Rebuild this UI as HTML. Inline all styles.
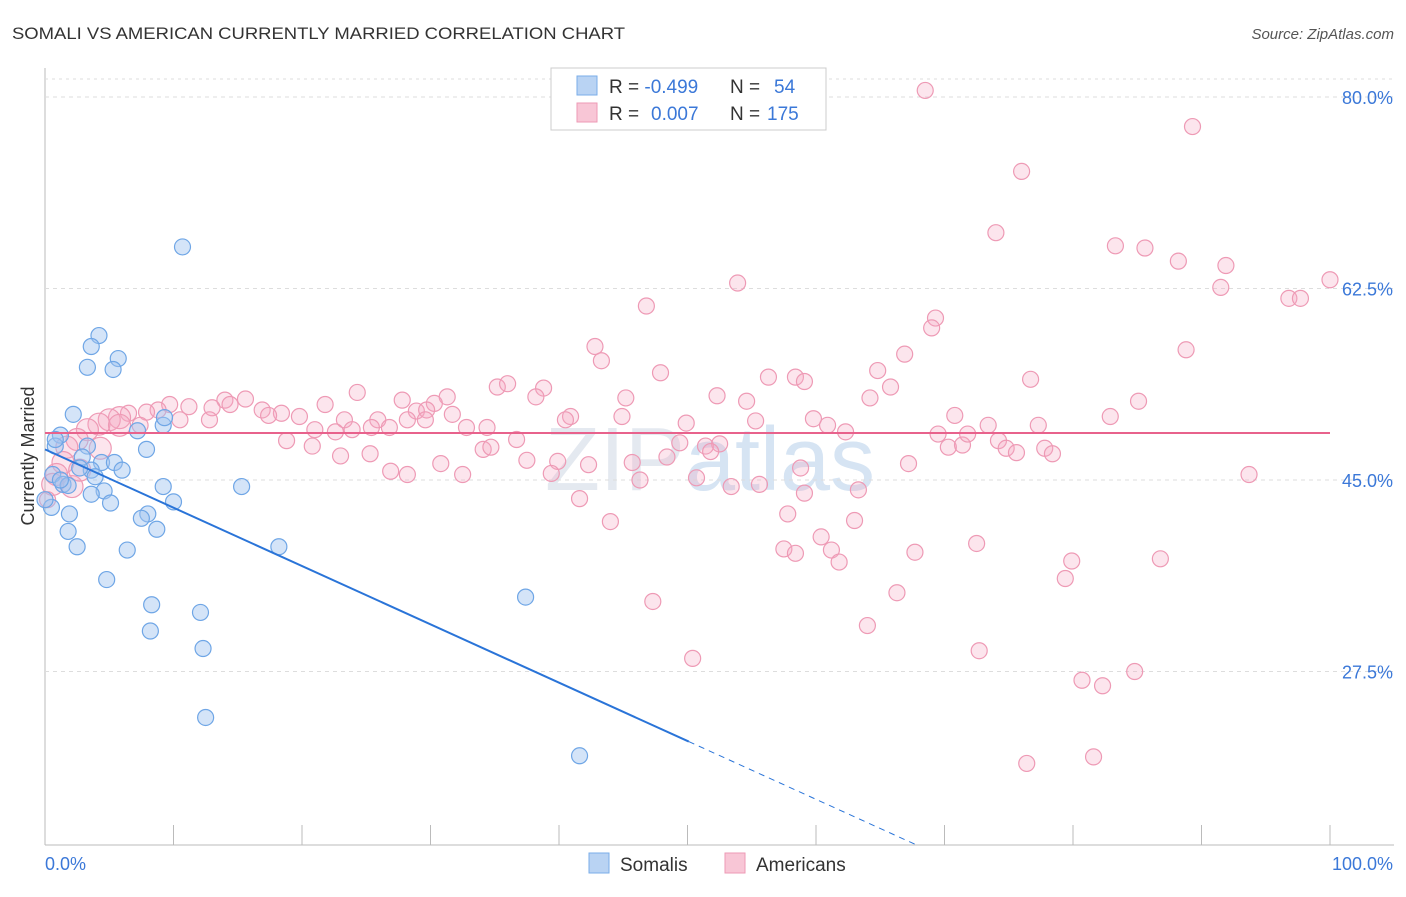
<!DOCTYPE html>
<html><head><meta charset="utf-8"><style>
body{margin:0;background:#fff;font-family:"Liberation Sans",sans-serif;}
svg text{font-family:"Liberation Sans",sans-serif;}
</style></head><body>
<svg id="chart" width="1406" height="892">
<text x="12" y="39" font-size="17" fill="#333" textLength="613" lengthAdjust="spacingAndGlyphs">SOMALI VS AMERICAN CURRENTLY MARRIED CORRELATION CHART</text>
<text x="1394" y="39" font-size="15" fill="#555" font-style="italic" text-anchor="end">Source: ZipAtlas.com</text>
<text x="710" y="490" font-size="90" fill="#e4e9f0" text-anchor="middle" font-family="Liberation Serif">ZIP<tspan fill="#d6e4f3" font-family="Liberation Sans">atlas</tspan></text>
<g id="grid"></g>
<g id="marks"></g>
<text transform="translate(34,456) rotate(-90)" font-size="18" fill="#333" text-anchor="middle">Currently Married</text>
<text x="45" y="870" font-size="18" fill="#3b78d8">0.0%</text>
<text x="1393" y="870" font-size="18" fill="#3b78d8" text-anchor="end">100.0%</text>
<g>
<rect x="551" y="68" width="275" height="62" fill="#fff" stroke="#ccc"/>
<rect x="577" y="76" width="20" height="19" fill="#b9d3f3" stroke="#7aaee8"/>
<rect x="577" y="103" width="20" height="19" fill="#f8c6d6" stroke="#ee9ab5"/>
<text x="609" y="93" font-size="19" fill="#333">R = <tspan fill="#3b78d8">-0.499</tspan><tspan x="730">N = </tspan><tspan fill="#3b78d8" x="774">54</tspan></text>
<text x="609" y="120" font-size="19" fill="#333">R = <tspan fill="#3b78d8" x="651">0.007</tspan><tspan x="730">N = </tspan><tspan fill="#3b78d8" x="767">175</tspan></text>
</g>
<g>
<rect x="589" y="853" width="20" height="20" fill="#b9d3f3" stroke="#7aaee8"/>
<text x="620" y="871" font-size="19" fill="#333">Somalis</text>
<rect x="725" y="853" width="20" height="20" fill="#f8c6d6" stroke="#ee9ab5"/>
<text x="756" y="871" font-size="19" fill="#333">Americans</text>
</g>
</svg>
<script>
const yTicks=[80,62.5,45,27.5];
const xTicks=[0,10,20,30,40,50,60,70,80,90,100];
const somaliX=[10.7,4.2,3.6,5.7,3.3,5.3,2.2,1.2,3.3,7.2,9.2,9.3,7.9,0.8,2.9,4.4,5.4,6.0,3.6,0.6,1.4,1.8,3.9,4.6,3.6,9.2,15.3,5.1,10.0,1.9,0.5,8.0,7.5,8.7,1.8,2.5,6.4,18.2,4.8,8.3,12.1,8.2,12.3,12.5,37.4,41.6,0,1.2,2.7,0.8];
const somaliY=[66.3,58.2,57.2,56.1,55.3,55.1,51.0,49.1,48.1,49.5,50.0,50.7,47.8,48.1,47.1,46.6,46.6,45.9,45.9,45.5,44.6,44.5,45.3,44.0,43.7,44.4,44.4,42.9,43.0,41.9,42.5,41.9,41.5,40.5,40.3,38.9,38.6,38.9,35.9,33.6,32.9,31.2,29.6,23.3,34.3,19.8,43.2,45.0,46.1,48.7];
const amerX=[68.5,89.3,76.0,74.0,83.3,85.6,88.2,91.9,100,91.5,96.8,97.7,53.9,46.8,69.3,69.0,42.8,43.3,66.9,88.8,47.9,64.8,56.3,58.4,59.1,65.8,76.7,35.2,36.0,38.8,38.2,24.3,27.8,31.3,30.3,28.9,29.7,52.3,54.6,64.2,45.2,85.1,82.9,70.8,59.8,60.9,62.3,55.3,49.9,44.9,40.9,40.5,31.7,28.2,25.9,25.4,23.3,22.6,21.0,19.8,18.4,16.9,15.6,14.0,13.0,11.2,9.7,8.8,7.9,6.5,5.8,5.0,4.2,3.3,2.5,1.7,1.4,0.9,0.6,0.2,2.1,2.7,4.3,5.8,7.4,10.5,12.8,14.4,17.4,21.8,23.9,26.8,29.6,32.8,34.4,36.7,34.1,34.7,49.4,51.4,52.5,51.8,48.4,45.7,42.3,37.5,39.9,39.4,30.8,26.9,28.2,32.5,25.3,20.8,18.8,23.0,69.5,70.3,71.4,71.8,74.2,74.8,75.6,77.8,78.4,77.3,73.4,58.8,67.2,93.7,63.3,59.1,55.6,53.4,50.7,46.3,41.6,44.0,57.8,63.0,57.5,58.4,60.4,61.2,61.8,67.7,72.5,79.9,79.4,86.8,66.3,47.3,64.0,72.7,50.4,80.7,82.3,84.8,76.4,81.6];
const amerY=[80.6,77.3,73.2,67.6,66.4,66.2,65.0,64.6,63.3,62.6,61.6,61.6,63.0,60.9,59.8,58.9,57.2,55.9,56.5,56.9,54.8,55.0,54.4,54.4,54.0,53.5,54.2,53.5,53.8,53.4,52.6,53.0,52.3,52.6,52.0,51.3,51.4,52.7,52.2,52.5,52.5,52.2,50.8,50.9,50.6,50.0,49.4,50.4,50.2,50.8,50.8,50.5,51.0,50.5,50.5,49.8,50.5,49.4,49.6,50.8,51.1,51.4,52.4,52.3,51.6,51.7,51.9,51.4,51.2,51.1,50.7,50.5,50.1,49.6,48.7,48.0,46.6,45.5,44.6,43.2,44.4,45.9,47.9,50.0,50.0,50.5,50.5,51.9,50.9,51.9,49.6,49.8,50.5,49.8,49.8,48.7,47.8,48.0,48.4,48.1,48.3,47.6,47.1,46.6,46.4,46.8,46.7,45.6,46.5,45.8,45.5,45.5,47.4,48.1,48.6,47.2,49.2,48.0,48.2,49.2,48.6,47.9,47.5,47.9,47.4,50.0,50.0,46.1,46.5,45.5,44.1,43.8,44.6,44.4,45.2,45.0,43.3,41.2,41.9,41.3,38.7,38.3,39.8,38.6,37.5,38.4,39.2,37.6,36.0,37.8,34.7,33.9,31.7,29.4,28.7,26.7,26.2,27.5,19.1,19.7];
const somaliTrend=[47.8,-0.533];
const amerTrend=[49.3,0];
const NS="http://www.w3.org/2000/svg";
const X0=45,X1=1330,YB=845;
function sx(v){return X0+(X1-X0)*v/100;}
function sy(v){return 97+(80-v)*10.943;}
function mk(tag,attrs,parent){const e=document.createElementNS(NS,tag);for(const k in attrs)e.setAttribute(k,attrs[k]);parent.appendChild(e);return e;}
const grid=document.getElementById('grid'),marks=document.getElementById('marks');
const ax=mk('line',{x1:X0,y1:68,x2:X0,y2:YB,stroke:'#bbb'},grid);


const bx=mk('line',{x1:X0,y1:YB,x2:1394,y2:YB,stroke:'#bbb'},grid);


mk('line',{x1:X0,y1:79,x2:1394,y2:79,stroke:'#ddd','stroke-dasharray':'3,4'},grid);
yTicks.forEach(t=>{
 const l=mk('line',{x1:X0,y1:sy(t),x2:1394,y2:sy(t),stroke:'#ddd','stroke-dasharray':'4,4'},grid);
 
 
 const tx=mk('text',{x:1393,y:sy(t)+7,'font-size':18,fill:'#3b78d8','text-anchor':'end'},grid);
 tx.textContent=t.toFixed(1)+'%';
 
 
});
xTicks.forEach(t=>{
 const l=mk('line',{x1:sx(t),y1:825,x2:sx(t),y2:YB,stroke:'#bbb'},grid);
 
 
});
function dots(xs,ys,fill,stroke,name,allowBig){
 xs.forEach((x,i)=>{
  const big=allowBig&&x<6&&Math.abs(ys[i]-48)<4;
  const c=mk('circle',{cx:sx(x),cy:sy(ys[i]),r:big?11:8,fill:fill,stroke:stroke,'stroke-width':1.2},marks);
  
  
 });
}
dots(amerX,amerY,'rgba(244,170,195,0.3)','#ee9ab5','american-point',true);
dots(somaliX,somaliY,'rgba(160,196,240,0.45)','#6fa6e6','somali-point',false);
const solidEnd=50.1;
const dashEnd=(somaliTrend[0]-11.6)/-somaliTrend[1];
const s1=mk('line',{x1:sx(0),y1:sy(somaliTrend[0]),x2:sx(solidEnd),y2:sy(somaliTrend[0]+somaliTrend[1]*solidEnd),stroke:'#2a74d8','stroke-width':2},marks);


const s2=mk('line',{x1:sx(solidEnd),y1:sy(somaliTrend[0]+somaliTrend[1]*solidEnd),x2:sx(dashEnd),y2:sy(somaliTrend[0]+somaliTrend[1]*dashEnd),stroke:'#2a74d8','stroke-width':1,'stroke-dasharray':'6,5'},marks);


const a1=mk('line',{x1:sx(0),y1:sy(amerTrend[0]),x2:sx(100),y2:sy(amerTrend[0]+amerTrend[1]*100),stroke:'#e8628c','stroke-width':2},marks);


</script>
</body></html>
